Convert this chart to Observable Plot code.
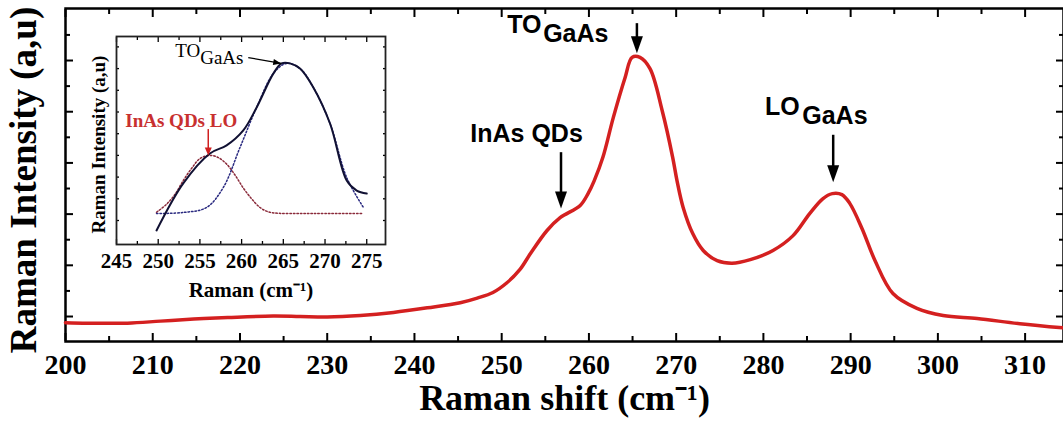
<!DOCTYPE html>
<html><head><meta charset="utf-8">
<script src="https://cdn.jsdelivr.net/npm/d3@7"></script>
<script src="https://cdn.jsdelivr.net/npm/@observablehq/plot@0.6"></script>
<style>
body{margin:0;background:#fff;}
#wrap{position:relative;width:1063px;height:422px;overflow:hidden;background:#fff;}
#inset{position:absolute;left:80px;top:20px;}
svg{overflow:visible}
</style></head><body>
<div id="wrap"><div id="main"></div><div id="inset"></div></div>
<script>
// ---------- main spectrum ----------
const shift = [200.0, 202.5, 207.1, 210.9, 214.7, 218.6, 223.8, 226.9, 230.0, 233.8, 237.6, 241.5, 245.25, 247.2, 249.0, 250.6, 252.1, 253.3, 255.2, 256.7, 259.0, 259.9, 260.6, 261.6, 262.8, 264.15, 264.95, 265.85, 267.0, 268.4, 269.6, 270.1, 270.8, 271.9, 273.1, 274.7, 276.4, 278.5, 281.1, 283.4, 285.3, 286.8, 287.9, 289.0, 289.9, 291.3, 292.8, 294.85, 297.6, 300.6, 304.5, 309.4, 314.3];
const intensity = [0.88, 0.87, 0.87, 0.91, 0.95, 0.98, 1.01, 1.00, 0.99, 1.02, 1.08, 1.17, 1.27, 1.36, 1.47, 1.66, 1.92, 2.23, 2.68, 2.93, 3.17, 3.40, 3.65, 4.11, 4.89, 5.67, 6.06, 6.06, 5.84, 5.02, 4.11, 3.65, 3.13, 2.62, 2.29, 2.09, 2.04, 2.11, 2.29, 2.58, 3.01, 3.30, 3.40, 3.38, 3.21, 2.72, 2.09, 1.45, 1.16, 1.02, 0.96, 0.86, 0.78];

const xMajorTicks = [200, 210, 220, 230, 240, 250, 260, 270, 280, 290, 300, 310];
const xMinorTicks = [205, 215, 225, 235, 245, 255, 265, 275, 285, 295, 305];
const yMajorTicks = [1, 2, 3, 4, 5, 6];
const yMinorTicks = [1.5, 2.5, 3.5, 4.5, 5.5, 6.5];

const xTitle = "Raman shift (cm\u207B\u00B9)";
const yTitle = "Raman Intensity (a,u)";

// annotations (data coordinates)
const peakLabels = ["InAs QDs", "TO", "GaAs", "LO", "GaAs"];
const peakLabelX = [246.4, 250.63, 254.75, 280.18, 284.45];
const peakLabelY = [4.57, 6.70, 6.51, 5.10, 4.91];
const arrowX = [256.8, 265.5, 288.0];
const arrowFrom = [4.20, 6.72, 4.54];
const arrowTo = [3.11, 6.14, 3.62];

// ---------- inset (deconvolution) ----------
const insetX = [249.8, 253.0, 256.2, 258.2, 260.2, 261.8, 263.8, 264.8, 265.8, 267.0, 268.6, 270.6, 272.6, 273.8, 275.0];
const insetY = [0.54, 2.71, 4.09, 4.46, 5.15, 6.21, 7.77, 8.24, 8.24, 8.00, 7.13, 5.47, 2.84, 2.38, 2.24];
const qdFitX = [249.8, 251.0, 252.0, 253.0, 254.0, 255.0, 256.2, 257.2, 258.2, 259.2, 260.2, 261.2, 262.2, 263.2, 264.5, 267.0, 270.0, 274.6];
const qdFitY = [1.38, 1.75, 2.20, 2.84, 3.40, 3.85, 4.00, 3.90, 3.60, 3.10, 2.50, 2.00, 1.60, 1.40, 1.33, 1.32, 1.32, 1.32];
const toFitX = [249.8, 253.0, 255.8, 257.8, 259.8, 261.8, 263.8, 265.4, 267.0, 268.6, 270.6, 272.6, 274.6];
const toFitY = [1.32, 1.37, 1.60, 2.52, 4.36, 6.21, 7.77, 8.24, 8.00, 7.13, 5.47, 2.98, 1.60];

const insetXMajor = [245, 250, 255, 260, 265, 270, 275];
const insetXMinor = [247.5, 252.5, 257.5, 262.5, 267.5, 272.5];
const insetYTicks = [1, 2, 3, 4, 5, 6, 7, 8, 9];
const insetXTitle = "Raman (cm\u207B\u00B9)";
const insetYTitle = "Raman Intensity (a,u)";
const insetLabels = ["TO", "GaAs"];
const insetLabelX = [252.04, 255.03];
const insetLabelY = [8.83, 8.51];
const qdLabel = ["InAs QDs LO"];
const qdLabelX = [252.76];
const qdLabelY = [5.61];

// ---------- helpers ----------
const serif = "'Liberation Serif','Times New Roman',serif";
const sans = "'Liberation Sans',Arial,sans-serif";
function head(angleDeg, len, half) {
  const a = angleDeg * Math.PI / 180, ux = Math.cos(a), uy = Math.sin(a);
  return {draw(ctx) {
    ctx.moveTo(0, 0);
    ctx.lineTo(-len * ux - half * uy, -len * uy + half * ux);
    ctx.lineTo(-len * ux + half * uy, -len * uy - half * ux);
    ctx.closePath();
  }};
}

const spectrum = shift.map((x, i) => ({x, y: intensity[i]}));
const labels = peakLabels.map((t, i) => ({t, x: peakLabelX[i], y: peakLabelY[i]}));
const arrows = arrowX.map((x, i) => ({x, y1: arrowFrom[i], y2: arrowTo[i]}));

const main = Plot.plot({
  width: 1063, height: 422,
  marginLeft: 65, marginRight: 0, marginTop: 8, marginBottom: 81,
  x: {domain: [200, 314.4]},
  y: {domain: [0.512, 7.016]},
  style: {background: "white", color: "black", fontFamily: serif, overflow: "visible"},
  marks: [
    Plot.axisX({ticks: xMajorTicks, anchor: "bottom", tickSize: -8, strokeWidth: 2, tickFormat: () => "", label: null}),
    Plot.axisX({ticks: xMinorTicks, anchor: "bottom", tickSize: -5, strokeWidth: 2, tickFormat: () => "", label: null}),
    Plot.axisX({ticks: xMajorTicks, anchor: "top", tickSize: -8, strokeWidth: 2, tickFormat: () => "", label: null}),
    Plot.axisX({ticks: xMinorTicks, anchor: "top", tickSize: -5, strokeWidth: 2, tickFormat: () => "", label: null}),
    Plot.axisY({ticks: yMajorTicks, anchor: "left", tickSize: -8, strokeWidth: 2, tickFormat: () => "", label: null}),
    Plot.axisY({ticks: yMinorTicks, anchor: "left", tickSize: -5, strokeWidth: 2, tickFormat: () => "", label: null}),
    Plot.axisY({ticks: yMajorTicks, anchor: "right", tickSize: -8, strokeWidth: 2, tickFormat: () => "", label: null}),
    Plot.axisY({ticks: yMinorTicks, anchor: "right", tickSize: -5, strokeWidth: 2, tickFormat: () => "", label: null}),
    Plot.axisX({ticks: xMajorTicks, anchor: "bottom", tickSize: 0, tickPadding: 13, fontSize: 28, fontWeight: "bold", fontFamily: serif, label: null}),
    Plot.frame({stroke: "black", strokeWidth: 2.5}),
    Plot.line(spectrum, {x: "x", y: "y", stroke: "#d42020", strokeWidth: 3.5, curve: "catmull-rom"}),
    Plot.ruleX(arrows, {x: "x", y1: "y1", y2: "y2", stroke: "black", strokeWidth: 2.5, insetBottom: 12}),
    Plot.dot(arrows, {x: "x", y: "y2", symbol: head(90, 17, 6), r: 5, fill: "black", stroke: "none"}),
    Plot.text(labels, {x: "x", y: "y", text: "t", textAnchor: "start", fontSize: 25, fontWeight: "bold", fontFamily: sans, fill: "black"}),
    Plot.text([xTitle], {frameAnchor: "bottom", textAnchor: "middle", lineAnchor: "middle", dy: 57, fontSize: 36, fontWeight: "bold", fontFamily: serif, fill: "black"}),
    Plot.text([yTitle], {frameAnchor: "left", textAnchor: "middle", lineAnchor: "middle", rotate: -90, dx: -41, dy: 5, fontSize: 37, fontWeight: "bold", fontFamily: serif, fill: "black"})
  ]
});
document.getElementById("main").append(main);

const insetLine = insetX.map((x, i) => ({x, y: insetY[i]}));
const qdFit = qdFitX.map((x, i) => ({x, y: qdFitY[i]}));
const toFit = toFitX.map((x, i) => ({x, y: toFitY[i]}));
const insetLab = insetLabels.map((t, i) => ({t, x: insetLabelX[i], y: insetLabelY[i]}));

const inset = Plot.plot({
  width: 320, height: 290,
  marginLeft: 36, marginRight: 15, marginTop: 16, marginBottom: 66,
  x: {domain: [245, 277.25]},
  y: {domain: [-0.106, 9.479]},
  style: {background: "transparent", color: "black", fontFamily: serif, overflow: "visible"},
  marks: [
    Plot.frame({fill: "white", stroke: "none"}),
    Plot.axisX({ticks: insetXMajor, anchor: "bottom", tickSize: -5, strokeWidth: 1.3, tickFormat: () => "", label: null}),
    Plot.axisX({ticks: insetXMinor, anchor: "bottom", tickSize: -3, strokeWidth: 1.3, tickFormat: () => "", label: null}),
    Plot.axisX({ticks: insetXMajor, anchor: "top", tickSize: -5, strokeWidth: 1.3, tickFormat: () => "", label: null}),
    Plot.axisX({ticks: insetXMinor, anchor: "top", tickSize: -3, strokeWidth: 1.3, tickFormat: () => "", label: null}),
    Plot.axisY({ticks: insetYTicks, anchor: "left", tickSize: -3, strokeWidth: 1.3, tickFormat: () => "", label: null}),
    Plot.axisY({ticks: insetYTicks, anchor: "right", tickSize: -3, strokeWidth: 1.3, tickFormat: () => "", label: null}),
    Plot.axisX({ticks: insetXMajor, anchor: "bottom", tickSize: 0, tickPadding: 9, fontSize: 21, fontWeight: "bold", fontFamily: serif, label: null}),
    Plot.frame({stroke: "#222", strokeWidth: 1.8}),
    Plot.line(qdFit, {x: "x", y: "y", stroke: "#8a2a3a", strokeWidth: 1.5, strokeDasharray: "1.5,2", curve: "catmull-rom"}),
    Plot.line(toFit, {x: "x", y: "y", stroke: "#2a2a80", strokeWidth: 1.5, strokeDasharray: "1.5,2", curve: "catmull-rom"}),
    Plot.line(insetLine, {x: "x", y: "y", stroke: "#111133", strokeWidth: 2, curve: "catmull-rom"}),
    Plot.text(insetLab, {x: "x", y: "y", text: "t", textAnchor: "start", fontSize: 19, fontFamily: serif, fill: "black"}),
    Plot.link([0], {x1: () => 260.8, y1: () => 8.51, x2: () => 264.75, y2: () => 8.24, stroke: "black", strokeWidth: 1.3}),
    Plot.dot([0], {x: () => 264.75, y: () => 8.24, symbol: head(10, 8, 3), r: 4, fill: "black", stroke: "none"}),
    Plot.text(qdLabel, {x: () => qdLabelX[0], y: () => qdLabelY[0], text: d => d, fontSize: 19, fontWeight: "bold", fontFamily: serif, fill: "#c8302f"}),
    Plot.ruleX([0], {x: () => 256.0, y1: () => 5.19, y2: () => 4.0, stroke: "#d02020", strokeWidth: 1.5, insetBottom: 6}),
    Plot.dot([0], {x: () => 256.0, y: () => 4.0, symbol: head(90, 8, 3.5), r: 4, fill: "#d02020", stroke: "none"}),
    Plot.text([insetXTitle], {frameAnchor: "bottom", textAnchor: "middle", lineAnchor: "middle", dy: 46, fontSize: 21, fontWeight: "bold", fontFamily: serif, fill: "black"}),
    Plot.text([insetYTitle], {frameAnchor: "left", textAnchor: "middle", lineAnchor: "middle", rotate: -90, dx: -18, dy: 4, fontSize: 19, fontWeight: "bold", fontFamily: serif, fill: "black"})
  ]
});
document.getElementById("inset").append(inset);
</script>
</body></html>
